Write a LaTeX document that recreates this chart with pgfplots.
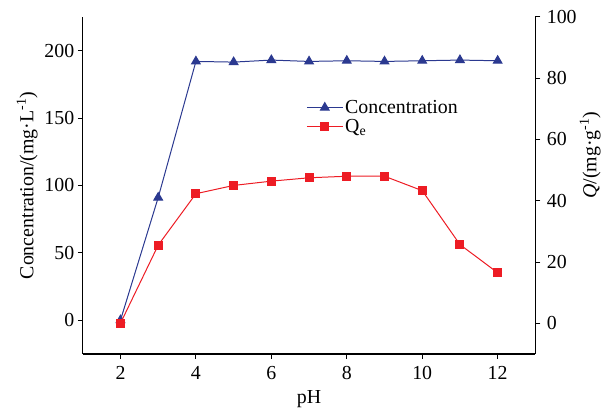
\documentclass[border=0pt]{standalone}
\usepackage{pgfplots}
\pgfplotsset{compat=1.18}
\usepackage{fontspec}
\setmainfont{Liberation Serif}
\definecolor{cblue}{RGB}{43,57,144}
\definecolor{cred}{RGB}{237,28,36}
\begin{document}
\begin{tikzpicture}
\pgfplotsset{
  every axis/.append style={
    scale only axis, width=454bp, height=338bp,
    xmin=1, xmax=13,
    font=\fontsize{20}{23}\selectfont,
    tick style={black, line width=1bp},
    axis line style={line width=1.3bp},
    tick align=outside, major tick length=5bp,
    /pgf/number format/assume math mode=true,
  }
}
% left axis: concentration
\begin{axis}[
  axis x line*=bottom, axis y line*=left,
  ymin=-25, ymax=225, ytick={0,50,...,200},
  xtick={2,4,...,12},
  xticklabel style={yshift=-4bp},
  xlabel={pH},
  xlabel style={yshift=-4bp},
  ylabel={Concentration/(mg·L\textsuperscript{-1})},
]
\addplot[cblue, line width=1bp, mark=triangle*, mark size=5bp] coordinates {
  (2,0) (3,91) (4,192) (5,191.5) (6,193) (7,192) (8,192.5)
  (9,192) (10,192.5) (11,193) (12,192.5)
};
\end{axis}
% right axis: Qe
\begin{axis}[
  axis x line=none, axis y line*=right,
  ymin=-10, ymax=100, ytick={0,20,...,100},
  yticklabel style={xshift=3bp},
  ylabel={\textit{Q}/(mg·g\textsuperscript{-1})},
  every axis y label/.append style={at={(rel axis cs:1,0.59)}, anchor=center, yshift=-55bp},
  legend style={at={(0.487,0.765)}, anchor=north west, draw=none, fill=none,
    font=\fontsize{20}{23}\selectfont, row sep=0bp},
  legend cell align=left,
  legend image code/.code={
    \draw[mark repeat=2, mark phase=2] plot coordinates {(0bp,0bp) (18bp,0bp) (36bp,0bp)};
  },
]
\addlegendimage{cblue, line width=1bp, mark=triangle*, mark size=5bp}
\addlegendentry{Concentration}
\addplot[cred, line width=1bp, mark=square*, mark size=4bp] coordinates {
  (2,0) (3,25.5) (4,42.3) (5,45.0) (6,46.4) (7,47.5) (8,48)
  (9,48) (10,43.3) (11,25.7) (12,16.5)
};
\addlegendentry{Q\textsubscript{e}}
\end{axis}
\path (current axis.south west) ++(-83bp,-50bp);
\path (current axis.north east) ++(67bp,17bp);
\end{tikzpicture}
\end{document}
